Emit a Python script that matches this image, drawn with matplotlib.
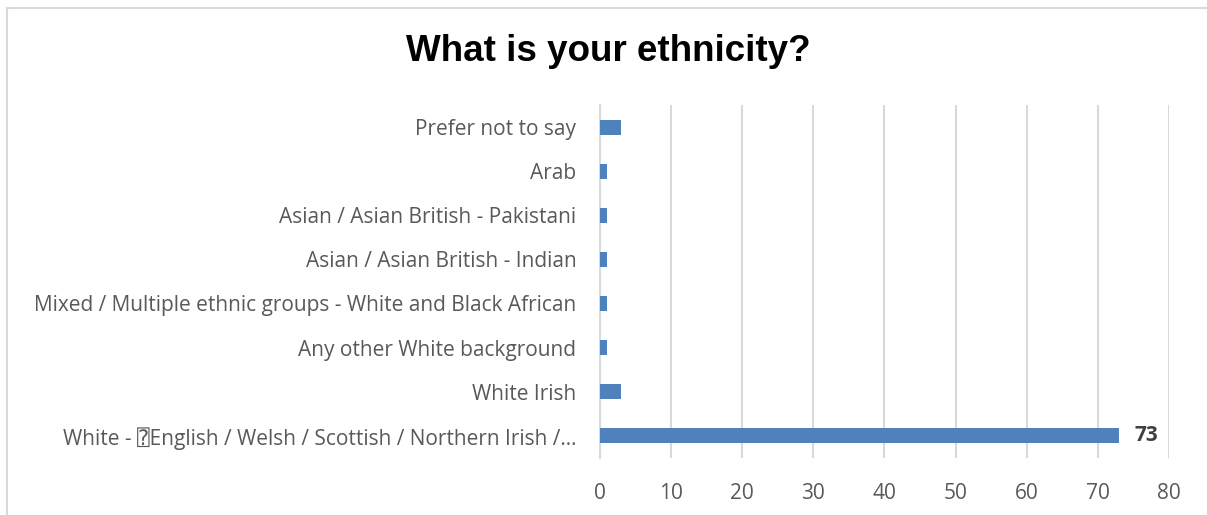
import matplotlib.pyplot as plt

categories = [
    'White - \u2370English / Welsh / Scottish / Northern Irish /\u2026',
    'White Irish',
    'Any other White background',
    'Mixed / Multiple ethnic groups - White and Black African',
    'Asian / Asian British - Indian',
    'Asian / Asian British - Pakistani',
    'Arab',
    'Prefer not to say',
]
counts = [73, 3, 1, 1, 1, 1, 1, 3]
x_ticks = [0, 10, 20, 30, 40, 50, 60, 70, 80]

plt.rcParams['font.family'] = ['Open Sans', 'DejaVu Sans', 'DejaVu Sans Mono']

fig = plt.figure(figsize=(12.07, 5.15), dpi=100)
ax = fig.add_axes([0.497, 0.111, 0.4715, 0.685])

ax.barh(range(len(categories)), counts, height=0.34, color='#4F81BD', zorder=3)
ax.set_ylim(-0.5, len(categories) - 0.5)
ax.set_xlim(0, 80)
ax.set_xticks(x_ticks)
ax.set_yticks(range(len(categories)))
ax.set_yticklabels(categories)

ax.grid(axis='x', color='#D9D9D9', linewidth=1.5, zorder=0)
for s in ['top', 'right', 'bottom']:
    ax.spines[s].set_visible(False)
ax.spines['left'].set_color('#D9D9D9')
ax.spines['left'].set_linewidth(1.5)
ax.tick_params(axis='y', length=0, pad=17, labelsize=15, labelcolor='#595959')
ax.tick_params(axis='x', length=0, pad=18, labelsize=15, labelcolor='#595959')

# only the largest bar carries a label
ax.text(counts[0] + 2.2, 0, str(counts[0]), va='center', ha='left',
        fontsize=15, fontweight='bold', color='#404040')

fig.text(0.504, 0.9, 'What is your ethnicity?', ha='center', va='center',
         fontsize=26.5, fontweight='bold', color='black',
         family=['Liberation Sans', 'DejaVu Sans'])

# outer chart frame (top and left edges visible)
fig.add_artist(plt.Line2D([0.006, 1.0], [0.984, 0.984], color='#D9D9D9', linewidth=1.5))
fig.add_artist(plt.Line2D([0.006, 0.006], [0.0, 0.984], color='#D9D9D9', linewidth=1.5))

fig.savefig('out.png', dpi=100)
